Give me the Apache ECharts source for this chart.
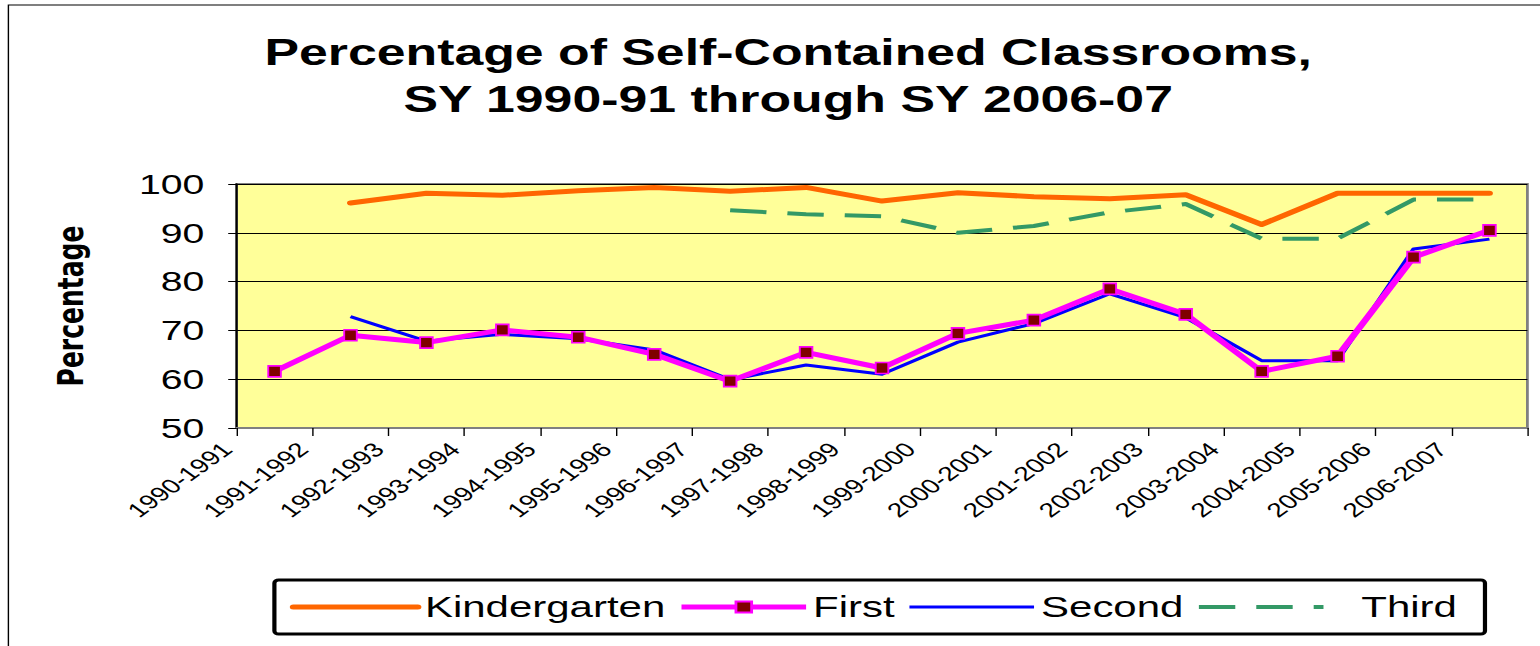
<!DOCTYPE html>
<html>
<head>
<meta charset="utf-8">
<title>Percentage of Self-Contained Classrooms</title>
<script src="https://cdn.jsdelivr.net/npm/echarts@6/dist/echarts.min.js"></script>
<style>
  html, body { margin: 0; padding: 0; background: #fff; overflow: hidden; }
  /* the source chart is an Excel picture stretched sideways, so draw narrow and stretch */
  #chart { width: 1100px; height: 646px; transform: scaleX(1.4); transform-origin: 0 0; }
</style>
</head>
<body>
<div id="chart"></div>
<script>
var years = ['1990-1991', '1991-1992', '1992-1993', '1993-1994', '1994-1995', '1995-1996',
  '1996-1997', '1997-1998', '1998-1999', '1999-2000', '2000-2001', '2001-2002',
  '2002-2003', '2003-2004', '2004-2005', '2005-2006', '2006-2007'];

var kindergarten = [null, 96.1, 98.1, 97.7, 98.6, 99.3, 98.5, 99.3, 96.5, 98.2, 97.4, 97.0, 97.8, 91.7, 98.1, 98.1, 98.1];
var first = [61.6, 69.0, 67.5, 70.1, 68.6, 65.1, 59.6, 65.5, 62.3, 69.4, 72.1, 78.5, 73.3, 61.6, 64.7, 85.0, 90.5];
var second = [null, 72.8, 67.8, 69.2, 68.3, 66.0, 59.9, 62.9, 61.0, 67.6, 71.4, 77.5, 72.6, 63.8, 63.8, 86.7, 88.7];
var third = [null, null, null, null, null, null, 94.6, 93.8, 93.4, 90.0, 91.4, 94.2, 95.9, 88.8, 88.8, 96.8, 96.8];

var yTicks = { min: 50, max: 100, step: 10 };

var chart = echarts.init(document.getElementById('chart'), null, { renderer: 'svg' });

var option = {
  backgroundColor: '#fff',
  animation: false,
  title: {
    text: 'Percentage of Self-Contained Classrooms,\nSY 1990-91 through SY 2006-07',
    left: 558,
    top: 24,
    textAlign: 'center',
    textStyle: {
      fontFamily: 'Liberation Sans',
      fontWeight: 'bold',
      fontSize: 37,
      lineHeight: 47,
      color: '#000'
    }
  },
  graphic: [{
    type: 'rect',
    silent: true,
    shape: { x: 6, y: 5, width: 1200, height: 700 },
    style: { fill: 'none', stroke: '#000', lineWidth: 1 }
  }],
  legend: {
    left: 196,
    top: 580,
    padding: [12, 20, 12, 11],
    borderColor: '#000',
    borderWidth: 3,
    borderRadius: 3,
    itemWidth: 89,
    itemHeight: 14,
    itemGap: 9,
    textStyle: {
      fontFamily: 'Liberation Sans',
      fontSize: 30,
      color: '#000'
    },
    data: [
      { name: 'Kindergarten', itemStyle: { opacity: 0 }, lineStyle: { width: 5 } },
      { name: 'First', lineStyle: { width: 5 } },
      { name: 'Second', itemStyle: { opacity: 0 }, lineStyle: { width: 3 } },
      { name: 'Third', itemStyle: { opacity: 0 }, lineStyle: { width: 4 },
        textStyle: { padding: [0, 0, 0, 22] } }
    ]
  },
  grid: {
    left: 169,
    right: 9,
    top: 184,
    bottom: 218,
    show: true,
    backgroundColor: '#FFFF99',
    borderColor: '#808080',
    borderWidth: 2
  },
  xAxis: {
    type: 'category',
    data: years,
    boundaryGap: true,
    axisLine: { lineStyle: { color: '#808080', width: 2 } },
    axisTick: { show: true, length: 8, lineStyle: { color: '#000' } },
    axisLabel: {
      interval: 0,
      rotate: 45,
      margin: -16,
      padding: [0, 48, 0, 0],
      fontFamily: 'Liberation Sans',
      fontSize: 20,
      color: '#000'
    },
    splitLine: { show: false }
  },
  yAxis: {
    type: 'value',
    min: yTicks.min,
    max: yTicks.max,
    interval: yTicks.step,
    name: 'Percentage',
    nameLocation: 'middle',
    nameGap: 106,
    nameTextStyle: {
      fontFamily: 'DejaVu Sans',
      fontWeight: 'bold',
      fontSize: 25,
      color: '#000'
    },
    axisLine: { show: true, lineStyle: { color: '#000', width: 1.5 } },
    axisTick: { show: true, inside: false, length: 6, lineStyle: { color: '#000' } },
    axisLabel: {
      margin: 23,
      fontFamily: 'Liberation Sans',
      fontSize: 28,
      color: '#000'
    },
    splitLine: { show: true, lineStyle: { color: '#000', width: 1 } }
  },
  series: [{
    name: 'Kindergarten',
    type: 'line',
    data: kindergarten,
    symbol: 'none',
    z: 2,
    color: '#FF6600',
    lineStyle: { color: '#FF6600', width: 5, cap: 'round', join: 'round' }
  }, {
    name: 'First',
    type: 'line',
    data: first,
    symbol: 'rect',
    symbolSize: [9, 11],
    showSymbol: true,
    z: 4,
    color: '#FF00FF',
    itemStyle: { color: '#800000', borderColor: '#FF00FF', borderWidth: 1.5 },
    lineStyle: { color: '#FF00FF', width: 5, join: 'round' }
  }, {
    name: 'Second',
    type: 'line',
    data: second,
    symbol: 'none',
    z: 3,
    color: '#0000FF',
    lineStyle: { color: '#0000FF', width: 3, join: 'round' }
  }, {
    name: 'Third',
    type: 'line',
    data: third,
    symbol: 'none',
    z: 2,
    color: '#339966',
    lineStyle: { color: '#339966', width: 4, type: [26, 15], join: 'round' }
  }]
};

chart.setOption(option);
</script>
</body>
</html>
